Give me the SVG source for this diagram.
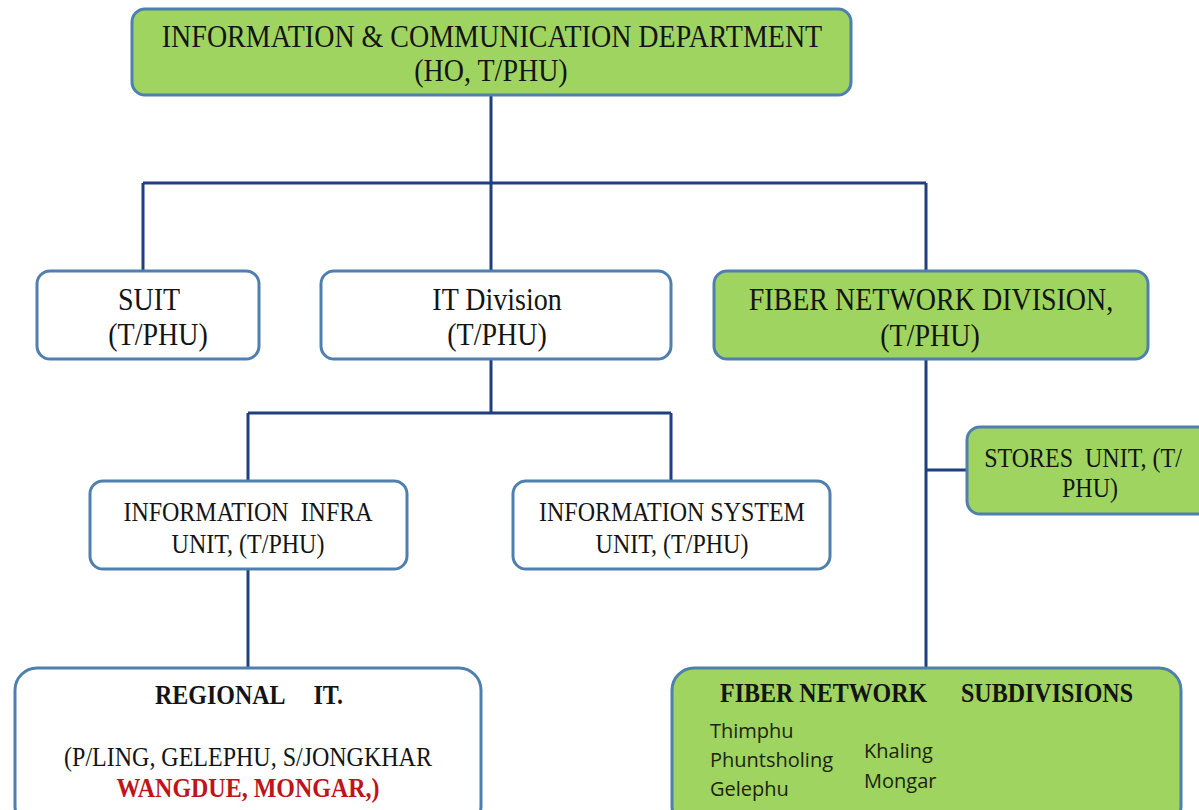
<svg xmlns="http://www.w3.org/2000/svg" width="1199" height="810" viewBox="0 0 1199 810">
<style>
.box{fill:#ffffff;stroke:#4f7fae;stroke-width:3}
.green{fill:#9ed45f;stroke:#4f7fae;stroke-width:3}
.t{font-family:"Liberation Serif","Times New Roman",serif;fill:#141414;text-anchor:middle}
.t28{font-size:28px}
.t24{font-size:24px}
.b{font-weight:bold}
.red{fill:#c0141c}
.s{font-family:"Open Sans","DejaVu Sans",sans-serif;font-size:20px;fill:#1c2410}
.conn{fill:none;stroke:#1f3f7f;stroke-width:3}
</style>
<rect width="1199" height="810" fill="#ffffff"/>
<g id="connectors">
<path class="conn" d="M491 95V183M143 183H926M143 183V271M491 183V271M926 183V271"/>
<path class="conn" d="M491 359V413M248 413H671M248 413V481M671 413V481"/>
<path class="conn" d="M248 569V668"/>
<path class="conn" d="M926 359V668M926 470H967"/>
</g>
<g id="ict-dept">
<rect class="green" x="132" y="9" width="719" height="86" rx="13"/>
<text class="t t28" transform="translate(492,47) scale(1,1.13)">INFORMATION &amp; COMMUNICATION DEPARTMENT</text>
<text class="t t28" transform="translate(491,81) scale(1,1.13)">(HO, T/PHU)</text>
</g>
<g id="suit">
<rect class="box" x="37" y="271" width="222" height="88" rx="13"/>
<text class="t t28" transform="translate(149,310) scale(1,1.13)">SUIT</text>
<text class="t t28" transform="translate(158,345) scale(1,1.13)">(T/PHU)</text>
</g>
<g id="it-division">
<rect class="box" x="321" y="271" width="350" height="88" rx="13"/>
<text class="t t28" transform="translate(497,310) scale(1,1.13)">IT Division</text>
<text class="t t28" transform="translate(497,345) scale(1,1.13)">(T/PHU)</text>
</g>
<g id="fiber-division">
<rect class="green" x="714" y="271" width="434" height="88" rx="13"/>
<text class="t t28" transform="translate(931,310) scale(1,1.13)">FIBER NETWORK DIVISION,</text>
<text class="t t28" transform="translate(930,346) scale(1,1.13)">(T/PHU)</text>
</g>
<g id="stores-unit">
<rect class="green" x="967" y="427" width="250" height="87" rx="13"/>
<text class="t t24" transform="translate(1083,467) scale(1,1.13)" xml:space="preserve">STORES  UNIT, (T/</text>
<text class="t t24" transform="translate(1090,497) scale(1,1.13)">PHU)</text>
</g>
<g id="info-infra">
<rect class="box" x="90" y="481" width="317" height="88" rx="13"/>
<text class="t t24" transform="translate(248,521) scale(1,1.13)" xml:space="preserve">INFORMATION  INFRA</text>
<text class="t t24" transform="translate(248,553) scale(1,1.13)">UNIT, (T/PHU)</text>
</g>
<g id="info-system">
<rect class="box" x="513" y="481" width="317" height="88" rx="13"/>
<text class="t t24" transform="translate(672,521) scale(1,1.13)">INFORMATION SYSTEM</text>
<text class="t t24" transform="translate(672,553) scale(1,1.13)">UNIT, (T/PHU)</text>
</g>
<g id="regional-it">
<rect class="box" x="15" y="668" width="466" height="160" rx="22"/>
<text class="t t24 b" transform="translate(155,704) scale(1,1.13)" style="text-anchor:start">REGIONAL</text>
<text class="t t24 b" transform="translate(343,704) scale(1,1.13)" style="text-anchor:end">IT.</text>
<text class="t t24" transform="translate(248,766) scale(1,1.13)">(P/LING, GELEPHU, S/JONGKHAR</text>
<text class="t t24 b red" transform="translate(248,797) scale(1,1.13)">WANGDUE, MONGAR,)</text>
</g>
<g id="fiber-subdivisions">
<rect class="green" x="672" y="668" width="509" height="160" rx="22"/>
<text class="t t24 b" transform="translate(720,702) scale(1,1.13)" style="text-anchor:start">FIBER NETWORK</text>
<text class="t t24 b" transform="translate(1133,702) scale(1,1.13)" style="text-anchor:end">SUBDIVISIONS</text>
<text class="s" x="710" y="738">Thimphu</text>
<text class="s" x="710" y="767">Phuntsholing</text>
<text class="s" x="710" y="796">Gelephu</text>
<text class="s" x="864" y="758">Khaling</text>
<text class="s" x="864" y="788">Mongar</text>
</g>
</svg>
